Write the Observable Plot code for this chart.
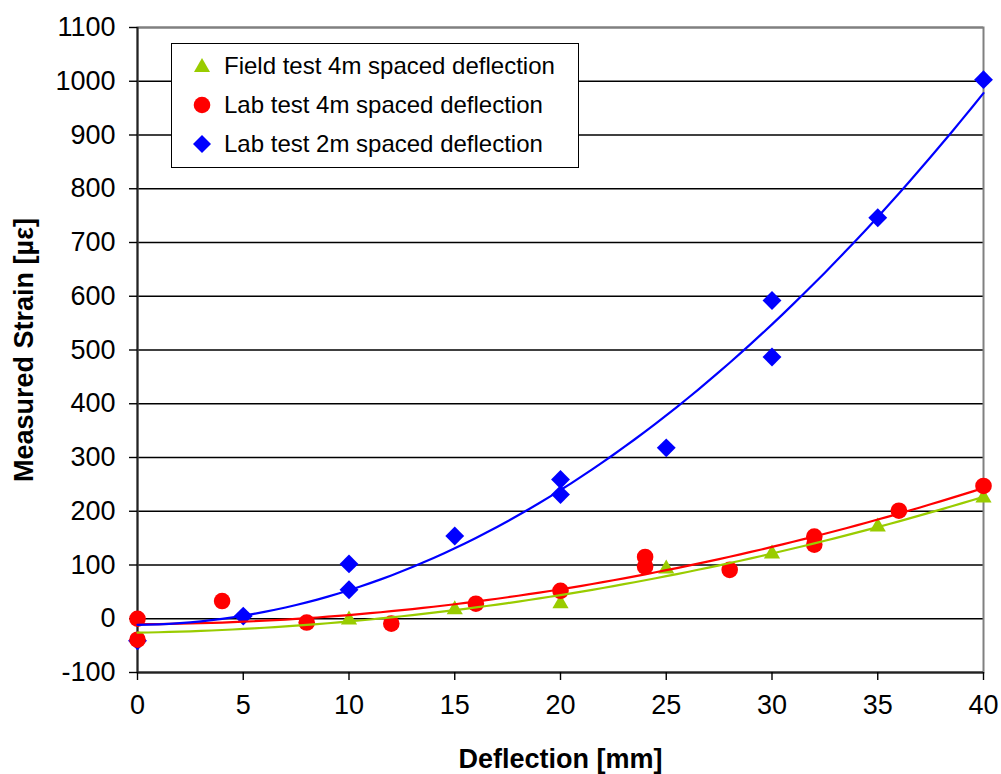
<!DOCTYPE html>
<html><head><meta charset="utf-8">
<script src="https://cdn.jsdelivr.net/npm/d3@7"></script>
<script src="https://cdn.jsdelivr.net/npm/@observablehq/plot@0.6"></script>
<style>
body{margin:0;background:#fff;font-family:"Liberation Sans",Arial,sans-serif;}
#wrap{position:relative;width:1001px;height:774px;}
#legend{position:absolute;left:171px;top:43px;width:406px;height:123px;border:1px solid #000;background:#fff;}
.row{position:absolute;left:0;height:30px;display:flex;align-items:center;font-size:24px;color:#000;white-space:nowrap;}
.row svg{margin-left:16px;margin-right:8px;}
#ytitle{position:absolute;left:24px;top:350px;transform:translate(-50%,-50%) rotate(-90deg);font-size:27px;font-weight:bold;color:#000;white-space:nowrap;}
</style></head><body><div id="wrap"></div>
<script>
// Data
const fieldX = [10, 15, 20, 25, 30, 35, 40];
const fieldY = [-2, 17, 28, 93, 121, 171, 225];
const lab4X = [0, 0, 4, 8, 12, 16, 20, 24, 24, 28, 32, 32, 36, 40];
const lab4Y = [0, -39, 33, -7, -9, 28, 52, 115, 97, 91, 153, 138, 201, 247];
const lab2X = [0, 5, 10, 10, 15, 20, 20, 25, 30, 30, 35, 40];
const lab2Y = [-41, 5, 102, 54, 154, 259, 231, 318, 592, 487, 746, 1003];
const xTicks = [0, 5, 10, 15, 20, 25, 30, 35, 40];
const yTicks = [-100, 0, 100, 200, 300, 400, 500, 600, 700, 800, 900, 1000, 1100];
const seriesNames = ["Field test 4m spaced deflection", "Lab test 4m spaced deflection", "Lab test 2m spaced deflection"];
const colors = ["#99CC00", "#FF0000", "#0000FF"];
const xTitle = "Deflection [mm]";
const yTitle = "Measured Strain [µε]";

const toRows = (xs, ys) => xs.map((x, i) => ({x, y: ys[i]}));
const field = toRows(fieldX, fieldY);
const lab4 = toRows(lab4X, lab4Y);
const lab2 = toRows(lab2X, lab2Y);

// second-order polynomial trend line (least squares), like the spreadsheet's trendline
function polyFit(rows) {
  const S = k => d3.sum(rows, r => r.x ** k);
  const T = k => d3.sum(rows, r => r.y * r.x ** k);
  const A = [[S(0), S(1), S(2)], [S(1), S(2), S(3)], [S(2), S(3), S(4)]];
  const b = [T(0), T(1), T(2)];
  for (let i = 0; i < 3; i++) {
    for (let j = i + 1; j < 3; j++) {
      const f = A[j][i] / A[i][i];
      for (let k = i; k < 3; k++) A[j][k] -= f * A[i][k];
      b[j] -= f * b[i];
    }
  }
  const c = [0, 0, 0];
  for (let i = 2; i >= 0; i--) {
    let s = b[i];
    for (let k = i + 1; k < 3; k++) s -= A[i][k] * c[k];
    c[i] = s / A[i][i];
  }
  return c;
}
function trend(rows) {
  const c = polyFit(rows);
  return d3.range(0, 40.001, 0.5).map(x => ({x, y: c[0] + c[1] * x + c[2] * x * x}));
}

const plot = Plot.plot({
  width: 1001,
  height: 774,
  marginLeft: 137,
  marginRight: 18,
  marginTop: 27,
  marginBottom: 102,
  style: {fontFamily: "'Liberation Sans', Arial, sans-serif", color: "#000", background: "#fff"},
  x: {domain: [0, 40]},
  y: {domain: [-100, 1100]},
  marks: [
    Plot.gridY(yTicks, {stroke: "#000", strokeOpacity: 1, strokeWidth: 1.4}),
    Plot.frame({stroke: "#808080", strokeWidth: 2}),
    Plot.ruleX([0], {stroke: "#222", strokeWidth: 2}),
    Plot.ruleY([-100], {stroke: "#222", strokeWidth: 2}),
    Plot.axisY({ticks: yTicks, tickSize: 8, tickPadding: 14, fontSize: 27, tickFormat: d => String(d), label: null, stroke: "#000", strokeWidth: 1.4}),
    Plot.axisX({ticks: xTicks, tickSize: 8, tickPadding: 14, fontSize: 27, tickFormat: d => String(d), label: null, stroke: "#000", strokeWidth: 1.4}),
    Plot.dot(lab2, {x: "x", y: "y", symbol: "diamond2", r: 8.5, fill: colors[2], stroke: null}),
    Plot.dot(field, {x: "x", y: "y", symbol: "triangle", r: 6, fill: colors[0], stroke: null}),
    Plot.dot(lab4, {x: "x", y: "y", symbol: "circle", r: 8.3, fill: colors[1], stroke: null}),
    Plot.line(trend(field), {x: "x", y: "y", stroke: colors[0], strokeWidth: 2.2}),
    Plot.line(trend(lab4), {x: "x", y: "y", stroke: colors[1], strokeWidth: 2.2}),
    Plot.line(trend(lab2), {x: "x", y: "y", stroke: colors[2], strokeWidth: 2.2}),
    Plot.text([xTitle], {frameAnchor: "bottom", dy: 87, fontSize: 27, fontWeight: "bold", lineAnchor: "middle", fill: "#000"})
  ]
});

const wrap = document.getElementById("wrap");
wrap.appendChild(plot);

// Y axis title
const yt = document.createElement("div");
yt.id = "ytitle";
yt.textContent = yTitle;
wrap.appendChild(yt);

// Legend
const legend = document.createElement("div");
legend.id = "legend";
const symbols = [
  `<svg width="28" height="28" viewBox="-14 -14 28 28"><path d="M0,-8L8,6L-8,6Z" fill="${colors[0]}"/></svg>`,
  `<svg width="28" height="28" viewBox="-14 -14 28 28"><circle r="8.3" fill="${colors[1]}"/></svg>`,
  `<svg width="28" height="28" viewBox="-14 -14 28 28"><path d="M0,-9L9,0L0,9L-9,0Z" fill="${colors[2]}"/></svg>`
];
const rowTops = [7, 46, 85];
seriesNames.forEach((name, i) => {
  const row = document.createElement("div");
  row.className = "row";
  row.style.top = rowTops[i] + "px";
  row.innerHTML = symbols[i] + `<span>${name}</span>`;
  legend.appendChild(row);
});
wrap.appendChild(legend);
</script>
</body></html>
